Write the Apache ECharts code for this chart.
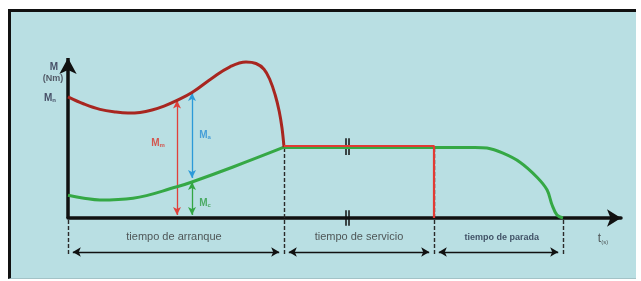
<!DOCTYPE html>
<html><head><meta charset="utf-8">
<script src="https://cdn.jsdelivr.net/npm/echarts@6/dist/echarts.min.js"></script>
<style>
html,body{margin:0;padding:0;background:#fff;}
#wrap{position:relative;width:641px;height:281px;overflow:hidden;background:#fff;}
#panel{position:absolute;left:8px;top:9px;width:628px;height:270px;background:#b9dfe3;border-left:3px solid #111;border-top:3px solid #111;border-bottom:1px solid #a3c3c7;box-sizing:border-box;}
#chart{position:absolute;left:0;top:0;width:641px;height:281px;}
</style></head>
<body><div id="wrap"><div id="panel"></div><div id="chart"></div></div>
<script>
// time (s) and torque (relative)
const motorT = [0, 0.4, 0.8, 1.2, 1.5, 1.8, 2.1, 2.4, 2.725, 3.1, 3.6, 4.05, 4.45, 4.7, 4.9, 5.05, 5.18, 5.28, 5.35, 5.4];
const motorM = [2.02, 1.9, 1.81, 1.765, 1.75, 1.76, 1.8, 1.865, 1.96, 2.09, 2.33, 2.52, 2.60, 2.575, 2.48, 2.3, 2.05, 1.78, 1.5, 1.18];
const serviceT = [5.4, 9.15, 9.15];
const serviceM = [1.2, 1.2, 0];
const loadStartT = [0, 0.4, 0.8, 1.625, 2.725, 3.1, 4.125, 5.4];
const loadStartM = [0.38, 0.33, 0.30, 0.33, 0.52, 0.60, 0.85, 1.18];
const loadEndT = [5.4, 10.175, 10.475, 10.875, 11.3, 11.725, 11.975, 12.1, 12.225, 12.375];
const loadEndM = [1.175, 1.175, 1.165, 1.08, 0.93, 0.68, 0.47, 0.22, 0.05, 0];
const phaseT = [0, 5.4, 9.15, 12.375];
const phaseTopM = [0, 1.18, 1.2, 0];
const phaseNames = ['tiempo de arranque', 'tiempo de servicio', 'tiempo de parada'];
const measureT = [2.725, 3.1];          // Mm arrow, Ma / Mc arrows
const mmRange = [0.05, 1.96];
const maRange = [0.667, 2.083];
const mcRange = [0.05, 0.6];
const breakT = 6.985;

const zip = (a, b) => a.map((v, i) => [v, b[i]]);
const FONT = '"Liberation Sans", Arial, sans-serif';
const BLACK = '#111';
const dimY = -0.567, dashBottom = -0.6;

function seg(p1, p2, style, s1, s2, size) {
  return [
    { coord: p1, symbol: s1 || 'none', symbolSize: size || 8, lineStyle: style },
    { coord: p2, symbol: s2 || 'none', symbolSize: size || 8 }
  ];
}

const marks = [];
marks.push(seg([0, 0], [0, 2.8 - 8 / 60], { color: BLACK, width: 3.5, type: 'solid' }, 'none', 'arrow', [13, 16]));
phaseT.forEach((t, i) => {
  marks.push(seg([t, dashBottom], [t, phaseTopM[i]], { color: '#2a2a2a', width: 1.4, type: [4, 2] }));
});
for (let i = 0; i < 3; i++) {
  marks.push(seg([phaseT[i] + 0.12, dimY], [phaseT[i + 1] - 0.12, dimY], { color: BLACK, width: 1.3, type: 'solid' }, 'arrow', 'arrow', [7, 8]));
}
marks.push(seg([measureT[0], mmRange[0]], [measureT[0], mmRange[1]], { color: '#e0403a', width: 1.3, type: 'solid' }, 'arrow', 'arrow', [6, 8]));
marks.push(seg([measureT[1], maRange[0]], [measureT[1], maRange[1]], { color: '#2b9ad8', width: 1.3, type: 'solid' }, 'arrow', 'arrow', [6, 8]));
marks.push(seg([measureT[1], mcRange[0]], [measureT[1], mcRange[1]], { color: '#33a643', width: 1.3, type: 'solid' }, 'arrow', 'arrow', [6, 8]));
[breakT - 0.045, breakT + 0.045].forEach(t => {
  marks.push(seg([t, 1.05], [t, 1.33], { color: BLACK, width: 1.5, type: 'solid' }));
  marks.push(seg([t, -0.13], [t, 0.13], { color: BLACK, width: 1.5, type: 'solid' }));
});

function txt(t, m, formatter, rich) {
  return { value: [t, m], label: { show: true, position: 'inside', formatter: formatter, rich: rich, fontFamily: FONT } };
}
const navy = '#2a2c48';
const sub = (c, size) => ({ a: { fontSize: size || 10, fontWeight: 'bold', color: c, fontFamily: FONT }, b: { fontSize: 6, fontWeight: 'bold', color: c, fontFamily: FONT, padding: [5, 0, 0, 0] } });

const annotations = [
  txt(-0.35, 2.517, '{a|M}', sub(navy)),
  txt(-0.375, 2.32, '{a|(Nm)}', { a: { fontSize: 9, fontWeight: 'bold', color: '#3a3a48', fontFamily: FONT } }),
  txt(-0.45, 2.0, '{a|M}{b|n}', sub(navy)),
  txt(2.25, 1.25, '{a|M}{b|m}', sub('#d9342b')),
  txt(3.425, 1.383, '{a|M}{b|a}', sub('#2a8fd4')),
  txt(3.425, 0.25, '{a|M}{b|c}', sub('#2f9e44')),
  txt((phaseT[0] + phaseT[1]) / 2 - 0.05, -0.317, '{a|' + phaseNames[0] + '}', { a: { fontSize: 11, color: '#333', fontFamily: FONT } }),
  txt((phaseT[1] + phaseT[2]) / 2, -0.317, '{a|' + phaseNames[1] + '}', { a: { fontSize: 11, color: '#333', fontFamily: FONT } }),
  txt((phaseT[2] + phaseT[3]) / 2 + 0.08, -0.317, '{a|' + phaseNames[2] + '}', { a: { fontSize: 9, fontWeight: 'bold', color: '#1f2a44', fontFamily: FONT } }),
  txt(13.375, -0.35, '{a|t}{b|(s)}', { a: { fontSize: 12, color: '#333', fontFamily: FONT }, b: { fontSize: 6, color: '#333', fontFamily: FONT, padding: [6, 0, 0, 0] } })
];

const chart = echarts.init(document.getElementById('chart'), null, { renderer: 'canvas' });
chart.setOption({
  animation: false,
  backgroundColor: 'transparent',
  grid: { left: 68, right: 20, top: 50, bottom: 18 },
  xAxis: {
    type: 'value', min: 0, max: 13.825,
    axisLine: { show: true, onZero: true, symbol: ['none', 'arrow'], symbolSize: [13, 14], lineStyle: { color: BLACK, width: 3.5 } },
    axisTick: { show: false }, axisLabel: { show: false }, splitLine: { show: false }
  },
  yAxis: {
    type: 'value', min: -0.75, max: 2.8,
    axisLine: { show: false }, axisTick: { show: false }, axisLabel: { show: false }, splitLine: { show: false }
  },
  series: [
    { type: 'line', data: zip(loadStartT, loadStartM), smooth: 0.4, symbol: 'none', lineStyle: { color: '#35a845', width: 3 }, z: 3 },
    { type: 'line', data: zip(loadEndT, loadEndM), smooth: 0.35, symbol: 'none', lineStyle: { color: '#35a845', width: 3 }, z: 3 },
    { type: 'line', data: zip(motorT, motorM), smooth: 0.4, symbol: 'none', lineStyle: { color: '#a82620', width: 3 }, z: 4 },
    { type: 'line', data: zip(serviceT, serviceM), smooth: false, symbol: 'none', lineStyle: { color: '#e23a33', width: 2.2 }, z: 4 },
    {
      type: 'scatter', data: annotations, symbolSize: 1, itemStyle: { color: 'rgba(0,0,0,0)' }, clip: false, silent: true, z: 6,
      markLine: { silent: true, animation: false, label: { show: false }, emphasis: { disabled: true }, data: marks, z: 2 }
    }
  ]
});
</script>
</body></html>
